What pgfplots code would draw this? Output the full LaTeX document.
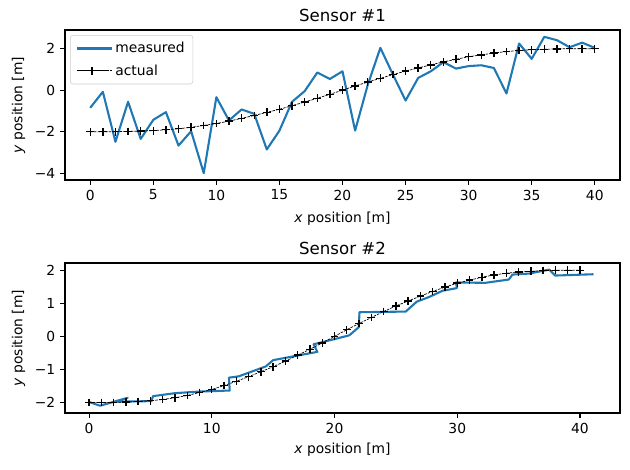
\documentclass[border=0pt]{standalone}
\usepackage{fontspec}
\setmainfont{DejaVu Sans}
\usepackage{pgfplots}
\pgfplotsset{compat=1.18}
\definecolor{mplblue}{HTML}{1F77B4}

\pgfplotsset{
  mplax/.style={
    scale only axis, width=399.6bp, height=108bp,
    anchor=south west,
    tick align=outside, tick pos=left,
    major tick length=3.5bp,
    every tick/.style={black, line width=0.8bp},
    axis line style={line width=0.8bp},
    tick label style={font=\fontsize{10}{12}\selectfont},
    label style={font=\fontsize{10}{12}\selectfont},
    title style={font=\fontsize{12}{14}\selectfont, at={(0.5,1)}, anchor=south, inner sep=0pt, yshift=-0.5bp},
    /pgf/number format/assume math mode=true,
    xlabel={\textit{x} position [m]},
    ylabel={\textit{y} position [m]},
    legend image code/.code={\path (-1bp,0bp) -- (24bp,0bp);\draw[mark repeat=2,mark phase=2,##1] plot coordinates {(0bp,0bp) (10bp,0bp) (20bp,0bp)};},
  },
  meas/.style={color=mplblue, line width=1.5bp, no markers, line join=round},
  act/.style={color=black, line width=0.5bp, dash pattern=on 1.85bp off 0.8bp, mark=+, mark size=2.8bp, mark options={solid, line width=1bp}},
}

\pgfplotstableread{
x y
0 -2.00
1 -2.00
2 -2.00
3 -1.99
4 -1.97
5 -1.95
6 -1.91
7 -1.86
8 -1.79
9 -1.70
10 -1.61
11 -1.49
12 -1.36
13 -1.22
14 -1.07
15 -0.92
16 -0.75
17 -0.57
18 -0.39
19 -0.20
20 0.00
21 0.20
22 0.39
23 0.57
24 0.75
25 0.92
26 1.07
27 1.22
28 1.36
29 1.49
30 1.61
31 1.70
32 1.79
33 1.86
34 1.91
35 1.95
36 1.97
37 1.99
38 2.00
39 2.00
40 2.00
}\actual

\pgfplotstableread{
x y
0 -0.85
1 -0.08
2 -2.49
3 -0.56
4 -2.35
5 -1.43
6 -1.06
7 -2.67
8 -1.98
9 -4.00
10 -0.34
11 -1.46
12 -0.93
13 -1.14
14 -2.86
15 -1.95
16 -0.56
17 -0.05
18 0.85
19 0.54
20 0.91
21 -1.95
22 0.25
23 2.04
24 0.75
25 -0.50
26 0.59
27 0.91
28 1.35
29 1.04
30 1.16
31 1.20
32 1.07
33 -0.16
34 2.25
35 1.51
36 2.57
37 2.41
38 2.07
39 2.29
40 2.04
}\measA

\pgfplotstableread{
x y
0.02 -1.99
0.90 -2.10
3.15 -1.86
2.00 -1.98
5.10 -1.96
5.20 -1.81
7.00 -1.72
9.00 -1.67
11.46 -1.64
11.40 -1.25
12.20 -1.21
14.40 -0.91
15.00 -0.72
17.15 -0.57
18.60 -0.47
18.30 -0.24
19.60 -0.12
21.20 0.03
21.98 0.28
22.03 0.73
25.80 0.75
26.70 1.05
27.70 1.19
28.80 1.38
29.97 1.46
29.90 1.63
32.30 1.62
34.20 1.72
34.50 1.87
35.85 1.90
37.50 2.02
37.97 1.84
41.10 1.88
}\measB

\begin{document}
\begin{tikzpicture}
\path[use as bounding box] (0bp,0bp) rectangle (453.6bp,338.4bp);

\begin{axis}[mplax, at={(46.8bp,208.8bp)},
  title={Sensor \#1},
  xmin=-2, xmax=42, ymin=-4.33, ymax=2.90,
  xtick={0,5,...,40},
  ytick={-4,-2,0,2}, yticklabels={−4,−2,0,2},
  xlabel style={yshift=-1.5bp},
  legend style={at={(0,1)}, anchor=north west, xshift=3.6bp, yshift=-3.6bp,
    draw=black!20, rounded corners=2bp, fill=white, fill opacity=0.8, text opacity=1,
    font=\fontsize{10}{12}\selectfont, inner xsep=4bp, inner ysep=3bp, row sep=3bp,
    cells={anchor=west}},
]
\addplot[meas] table[x=x,y=y] {\measA};
\addlegendentry{measured}
\addplot[act] table[x=x,y=y] {\actual};
\addlegendentry{actual}
\end{axis}

\begin{axis}[mplax, at={(46.8bp,41.04bp)},
  title={Sensor \#2},
  xmin=-1.96, xmax=43.26, ymin=-2.32, ymax=2.22,
  xtick={0,10,...,40},
  ytick={-2,-1,0,1,2}, yticklabels={−2,−1,0,1,2},
]
\addplot[meas] table[x=x,y=y] {\measB};
\addplot[act] table[x=x,y=y] {\actual};
\end{axis}
\end{tikzpicture}
\end{document}
